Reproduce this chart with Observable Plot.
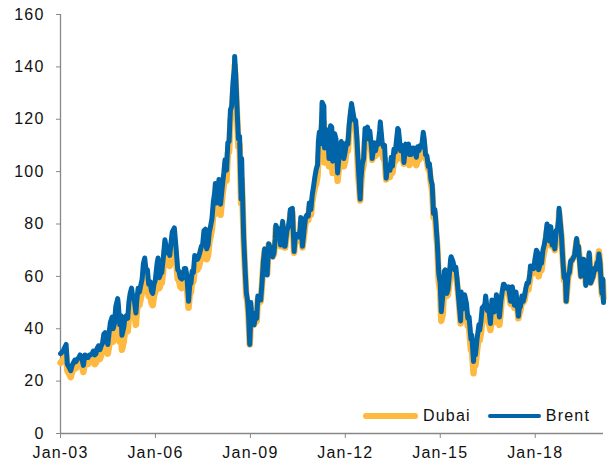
<!DOCTYPE html>
<html>
<head>
<meta charset="utf-8">
<script src="https://cdn.jsdelivr.net/npm/d3@7"></script>
<script src="https://cdn.jsdelivr.net/npm/@observablehq/plot@0.6"></script>
<style>
  html, body { margin: 0; padding: 0; background: #fff; }
  #wrap { position: relative; width: 615px; height: 468px; font-family: "Liberation Sans", Arial, sans-serif; }
  #legend { position: absolute; left: 363px; top: 406px; height: 20px; display: flex; align-items: center;
            font-size: 16px; letter-spacing: 1.2px; color: #111; white-space: nowrap; }
  .sw { display: inline-block; border-radius: 3px; }
</style>
</head>
<body>
<div id="wrap"></div>
<script>
// ---- data ----
const seriesNames = ["Dubai", "Brent"];
const seriesColors = ["#FDB940", "#0064A8"];
const yTicks = [0, 20, 40, 60, 80, 100, 120, 140, 160];
const xTickLabels = ["2003-01-01", "2006-01-01", "2009-01-01", "2012-01-01", "2015-01-01", "2018-01-01"];
const xDomain = ["2003-01-01", "2020-02-28"];

const dates = [
"2003-01-02","2003-01-15","2003-01-31","2003-02-14","2003-03-07","2003-03-20","2003-04-07","2003-04-29","2003-05-15","2003-05-30","2003-06-15","2003-06-30","2003-07-15","2003-07-31","2003-08-15","2003-08-29","2003-09-22","2003-10-10","2003-10-30","2003-11-15","2003-11-28","2003-12-15","2003-12-31",
"2004-01-15","2004-01-31","2004-02-15","2004-02-27","2004-03-15","2004-03-31","2004-04-15","2004-04-30","2004-05-15","2004-05-31","2004-06-15","2004-06-30","2004-07-15","2004-07-30","2004-08-19","2004-08-31","2004-09-15","2004-09-30","2004-10-22","2004-10-29","2004-11-15","2004-11-30","2004-12-10","2004-12-31",
"2005-01-15","2005-01-31","2005-02-15","2005-02-28","2005-03-15","2005-03-31","2005-04-15","2005-04-30","2005-05-20","2005-05-31","2005-06-15","2005-06-30","2005-07-15","2005-07-31","2005-08-15","2005-08-30","2005-09-15","2005-09-30","2005-10-15","2005-10-31","2005-11-15","2005-11-30","2005-12-15","2005-12-30",
"2006-01-20","2006-01-31","2006-02-15","2006-02-28","2006-03-15","2006-03-31","2006-04-20","2006-04-28","2006-05-15","2006-05-31","2006-06-15","2006-06-30","2006-07-14","2006-08-07","2006-08-25","2006-09-15","2006-09-29","2006-10-15","2006-10-31","2006-11-15","2006-11-30","2006-12-15","2006-12-29",
"2007-01-18","2007-01-31","2007-02-15","2007-02-28","2007-03-15","2007-03-30","2007-04-15","2007-04-30","2007-05-15","2007-05-31","2007-06-15","2007-06-29","2007-07-15","2007-07-31","2007-08-15","2007-08-31","2007-09-15","2007-09-28","2007-10-15","2007-10-31","2007-11-15","2007-11-23","2007-12-05","2007-12-31",
"2008-01-03","2008-01-22","2008-02-15","2008-02-29","2008-03-14","2008-03-31","2008-04-15","2008-04-30","2008-05-15","2008-05-30","2008-06-16","2008-06-30","2008-07-03","2008-07-15","2008-07-31","2008-08-15","2008-08-29","2008-09-16","2008-09-22","2008-10-01","2008-10-15","2008-10-31","2008-11-14","2008-11-28","2008-12-10","2008-12-24","2008-12-31",
"2009-01-06","2009-01-15","2009-01-30","2009-02-12","2009-02-27","2009-03-15","2009-03-27","2009-04-15","2009-04-30","2009-05-15","2009-05-31","2009-06-15","2009-06-30","2009-07-13","2009-07-31","2009-08-14","2009-08-31","2009-09-15","2009-09-30","2009-10-15","2009-10-21","2009-11-15","2009-11-30","2009-12-15","2009-12-31",
"2010-01-08","2010-01-29","2010-02-05","2010-02-26","2010-03-15","2010-03-31","2010-04-06","2010-04-30","2010-05-20","2010-05-31","2010-06-15","2010-06-30","2010-07-15","2010-07-31","2010-08-05","2010-08-25","2010-09-15","2010-09-30","2010-10-15","2010-10-31","2010-11-11","2010-11-30","2010-12-15","2010-12-31",
"2011-01-15","2011-01-31","2011-02-15","2011-02-24","2011-03-07","2011-03-15","2011-03-31","2011-04-08","2011-04-29","2011-05-06","2011-05-15","2011-05-31","2011-06-15","2011-06-27","2011-07-15","2011-07-29","2011-08-08","2011-08-31","2011-09-15","2011-09-30","2011-10-04","2011-10-31","2011-11-15","2011-11-30","2011-12-15","2011-12-30",
"2012-01-15","2012-01-31","2012-02-15","2012-02-29","2012-03-13","2012-03-30","2012-04-15","2012-04-30","2012-05-15","2012-05-31","2012-06-21","2012-06-29","2012-07-15","2012-07-31","2012-08-16","2012-08-31","2012-09-14","2012-09-28","2012-10-10","2012-10-31","2012-11-07","2012-11-30","2012-12-15","2012-12-31",
"2013-01-15","2013-01-31","2013-02-08","2013-02-28","2013-03-15","2013-03-29","2013-04-17","2013-04-30","2013-05-15","2013-05-31","2013-06-15","2013-06-28","2013-07-15","2013-07-31","2013-08-28","2013-09-06","2013-09-30","2013-10-15","2013-10-31","2013-11-07","2013-11-29","2013-12-15","2013-12-31",
"2014-01-09","2014-01-31","2014-02-15","2014-02-28","2014-03-15","2014-03-31","2014-04-15","2014-04-30","2014-05-15","2014-05-31","2014-06-19","2014-06-30","2014-07-15","2014-07-31","2014-08-15","2014-08-29","2014-09-15","2014-09-30","2014-10-15","2014-10-31","2014-11-15","2014-11-28","2014-12-15","2014-12-31",
"2015-01-13","2015-01-30","2015-02-17","2015-02-27","2015-03-17","2015-03-31","2015-04-15","2015-04-30","2015-05-06","2015-05-29","2015-06-15","2015-06-30","2015-07-15","2015-07-31","2015-08-24","2015-08-31","2015-09-15","2015-09-30","2015-10-09","2015-10-31","2015-11-15","2015-11-30","2015-12-21","2015-12-31",
"2016-01-20","2016-01-31","2016-02-11","2016-02-29","2016-03-22","2016-03-31","2016-04-15","2016-04-29","2016-05-15","2016-05-31","2016-06-08","2016-06-27","2016-07-15","2016-08-02","2016-08-19","2016-08-31","2016-09-15","2016-09-30","2016-10-10","2016-10-31","2016-11-14","2016-11-30","2016-12-15","2016-12-30",
"2017-01-06","2017-01-31","2017-02-15","2017-02-28","2017-03-22","2017-03-31","2017-04-12","2017-04-30","2017-05-05","2017-05-24","2017-06-21","2017-06-30","2017-07-15","2017-07-31","2017-08-15","2017-08-31","2017-09-15","2017-09-29","2017-10-15","2017-10-31","2017-11-07","2017-11-30","2017-12-15","2017-12-29",
"2018-01-15","2018-01-31","2018-02-09","2018-02-28","2018-03-15","2018-03-31","2018-04-15","2018-04-30","2018-05-17","2018-05-31","2018-06-15","2018-06-30","2018-07-15","2018-07-31","2018-08-15","2018-08-31","2018-09-15","2018-09-30","2018-10-03","2018-10-31","2018-11-15","2018-11-30","2018-12-15","2018-12-24",
"2019-01-15","2019-01-31","2019-02-15","2019-02-28","2019-03-15","2019-03-31","2019-04-24","2019-04-30","2019-05-15","2019-05-31","2019-06-12","2019-06-30","2019-07-15","2019-07-31","2019-08-07","2019-08-30","2019-09-16","2019-09-30","2019-10-03","2019-10-31","2019-11-15","2019-11-30","2019-12-15","2019-12-31",
"2020-01-06","2020-01-20","2020-01-31","2020-02-10","2020-02-20","2020-02-28"
];

const brent = [
30.5,31.0,31.5,32.5,34.0,26.5,25.5,24.0,26.0,27.0,28.0,27.5,28.5,28.8,30.0,29.5,26.0,30.0,29.0,29.0,30.0,30.0,30.5,
31.5,30.0,30.5,32.5,33.5,32.0,33.5,34.5,38.0,38.5,36.0,34.0,38.5,42.5,44.5,40.0,42.0,48.5,51.5,49.5,41.5,45.0,37.5,40.5,
44.5,45.0,44.0,50.0,53.5,55.5,52.0,51.5,46.0,51.0,55.5,54.0,56.5,59.0,65.0,67.0,62.0,62.5,57.0,58.0,54.5,53.5,57.0,58.5,
65.0,67.0,59.5,61.0,61.5,66.5,74.0,72.5,69.0,70.0,68.0,73.0,77.0,78.5,71.5,62.5,62.0,59.5,59.0,59.5,63.0,63.0,60.5,
50.5,56.5,57.5,62.0,61.5,68.0,67.5,66.5,67.5,69.5,71.5,72.0,77.5,78.0,70.5,72.0,77.0,79.0,82.0,88.5,92.0,95.5,88.0,94.0,
97.0,87.5,95.5,99.5,104.5,100.5,111.0,111.5,123.5,125.0,135.0,139.5,144.0,137.0,124.0,112.5,113.5,89.5,105.0,92.0,75.0,63.0,54.0,51.0,45.5,34.0,40.0,
50.0,45.0,46.0,41.5,44.5,44.0,52.5,51.0,51.0,57.5,66.0,70.5,70.0,60.5,72.5,71.0,71.0,67.5,69.0,74.5,79.5,77.5,78.0,72.0,78.0,
81.0,71.5,71.5,77.5,79.0,82.5,85.5,86.0,69.5,74.0,76.0,75.0,75.0,78.5,82.5,71.5,78.5,82.5,83.5,83.0,88.0,85.5,91.0,94.5,
98.0,101.0,102.5,111.5,115.0,110.5,117.5,126.5,125.0,109.0,112.0,116.0,113.0,105.0,117.5,117.0,104.0,114.5,112.5,102.5,99.5,109.5,111.5,110.5,105.0,107.5,
111.0,110.5,118.0,122.5,126.0,122.5,119.5,119.5,112.0,101.5,89.5,97.0,103.0,105.0,116.5,114.5,117.0,112.5,115.5,108.5,105.0,111.0,108.0,111.0,
110.5,115.5,119.0,111.5,109.5,110.0,97.5,101.5,102.5,100.5,105.5,102.0,108.5,107.5,116.5,116.0,108.0,110.0,108.5,103.5,110.5,109.0,110.5,
106.5,106.5,109.0,109.0,108.5,105.5,109.5,108.0,110.0,109.5,115.0,112.5,106.5,106.0,102.0,103.0,97.0,95.0,84.0,85.5,79.0,72.5,61.0,57.5,
46.5,52.5,62.0,62.5,53.5,55.0,60.0,66.5,67.5,65.5,62.5,63.5,58.5,52.0,43.0,54.0,47.5,48.5,53.0,49.5,44.0,44.5,36.0,37.5,
27.5,35.0,30.0,36.0,41.5,39.5,43.0,48.0,48.5,49.5,52.5,47.0,47.5,42.0,51.0,47.0,46.5,49.0,53.0,48.5,44.5,50.5,54.0,57.0,
57.0,55.5,55.5,56.0,50.5,53.0,56.0,51.5,49.0,54.0,44.8,47.5,48.5,52.5,50.5,52.5,55.5,57.5,57.5,61.0,64.0,63.5,63.0,66.5,
70.0,69.0,62.5,65.0,65.0,70.0,72.0,75.0,80.0,77.5,73.5,79.0,72.0,74.0,70.5,77.5,78.0,82.5,86.0,75.5,66.5,59.5,60.0,50.5,
60.5,61.5,66.0,66.0,67.0,68.0,74.5,72.0,71.5,64.5,60.0,66.5,66.5,65.0,56.5,60.5,69.0,61.0,57.5,60.0,63.0,62.5,65.0,66.0,
68.5,65.0,58.0,53.5,59.0,50.0
];

const dubai = [
27.0,27.5,28.0,29.0,30.5,24.0,23.0,21.5,23.5,24.5,25.5,25.0,26.0,26.3,27.5,27.0,23.5,27.5,26.5,26.5,27.5,27.5,28.0,
28.0,26.5,27.0,29.0,30.0,28.5,30.0,31.0,34.5,35.0,32.5,30.5,33.5,37.5,39.0,35.0,36.5,42.0,44.0,42.5,35.0,38.0,32.0,35.0,
39.5,40.0,39.0,45.0,48.5,50.5,47.0,46.5,41.5,46.5,50.5,49.0,51.5,54.0,59.5,61.5,57.0,57.0,52.5,53.0,50.0,49.0,52.5,54.0,
60.5,62.5,55.5,57.0,57.5,62.0,69.5,68.0,64.5,65.5,64.0,68.5,72.0,73.5,67.0,59.0,58.5,56.0,55.5,56.0,59.0,59.0,56.5,
48.0,53.0,54.0,58.5,58.0,63.5,63.5,62.5,63.5,65.5,67.5,68.0,72.5,73.0,66.5,68.0,73.0,75.0,78.0,84.0,87.0,90.5,84.0,89.5,
93.0,83.5,91.5,95.0,100.0,96.5,107.0,107.5,119.5,121.0,131.0,135.5,140.5,134.0,121.0,109.5,110.5,88.0,97.0,90.0,73.5,62.0,52.5,50.0,44.5,34.0,38.5,
47.5,43.0,43.5,41.5,43.5,43.0,51.0,50.0,50.5,57.0,65.5,70.0,70.0,61.0,72.0,71.0,70.5,67.5,68.5,74.0,78.5,77.0,77.0,71.5,77.0,
79.5,71.0,71.0,76.5,77.5,80.5,84.0,84.5,69.0,73.0,74.5,73.5,73.5,77.0,80.5,71.0,76.5,80.5,81.5,81.5,86.0,83.5,88.5,91.5,
94.0,95.5,98.5,106.0,108.5,105.0,111.0,119.5,119.0,103.5,106.5,110.5,108.0,102.0,112.5,112.5,99.5,108.0,106.0,99.5,96.5,106.0,108.5,107.0,102.0,104.0,
108.0,108.0,115.5,119.5,123.0,120.0,116.5,116.5,108.5,98.0,89.0,94.0,100.5,102.5,112.5,111.5,113.5,109.5,111.5,107.0,104.5,108.0,106.0,107.5,
107.0,111.0,114.5,107.5,105.0,105.0,97.0,99.0,100.0,98.0,101.0,99.5,104.0,104.0,110.5,110.0,105.0,106.0,105.5,103.0,106.5,106.5,107.0,
102.5,103.5,105.0,105.5,104.0,102.5,105.0,104.5,106.0,106.0,111.0,109.5,105.0,104.5,101.0,101.0,95.5,93.0,82.5,84.0,76.5,71.5,58.0,54.5,
43.0,45.5,58.0,58.5,52.5,53.0,57.0,62.0,64.0,63.0,61.0,60.5,57.0,52.0,42.0,49.5,45.5,45.5,48.5,45.5,41.0,40.5,32.0,32.5,
23.0,31.0,26.0,31.5,37.5,35.5,38.5,42.5,44.5,46.0,47.5,43.5,42.5,39.5,46.5,43.0,42.5,45.0,49.0,46.0,41.5,47.0,52.5,54.0,
55.0,54.0,54.0,54.5,49.5,51.5,54.0,50.0,48.0,52.5,44.0,45.5,47.0,51.0,50.0,51.0,54.0,55.5,55.0,58.5,61.5,61.0,61.5,64.0,
68.0,67.0,60.0,62.5,62.5,67.0,69.5,72.0,77.5,75.0,72.0,76.0,71.5,72.5,70.0,75.0,76.5,80.5,84.5,75.0,67.0,58.5,59.0,50.5,
59.5,61.0,65.0,66.0,67.0,67.5,73.5,72.0,71.0,66.0,60.0,64.5,65.0,64.0,57.5,59.5,68.0,60.5,57.5,60.0,62.5,62.0,65.0,67.5,
69.5,64.5,57.0,53.0,58.0,51.5
];

// ---- build table ----
if (dates.length !== brent.length || dates.length !== dubai.length) {
  throw new Error(`length mismatch: dates ${dates.length}, brent ${brent.length}, dubai ${dubai.length}`);
}
const parse = d3.utcParse("%Y-%m-%d");
const rows = [];
dates.forEach((d, i) => {
  rows.push({date: parse(d), value: dubai[i], series: seriesNames[0]});
  rows.push({date: parse(d), value: brent[i], series: seriesNames[1]});
});
const dubaiRows = rows.filter(r => r.series === seriesNames[0]);
const brentRows = rows.filter(r => r.series === seriesNames[1]);
const xd = xDomain.map(parse);
const axisColor = "#888888";

const chart = Plot.plot({
  width: 615,
  height: 468,
  marginLeft: 60,
  marginRight: 12,
  marginTop: 14,
  marginBottom: 35,
  style: {fontFamily: "'Liberation Sans', Arial, sans-serif", fontSize: "16px", letterSpacing: "1.2px", color: "#111", background: "#fff"},
  x: {type: "utc", domain: xd},
  y: {domain: [yTicks[0], yTicks[yTicks.length - 1]]},
  marks: [
    Plot.axisY({ticks: yTicks, tickSize: 4, tickPadding: 12, stroke: axisColor, fill: "#111", label: null, fontSize: 16}),
    Plot.axisX({ticks: xTickLabels.map(parse), tickSize: 5, tickPadding: 8, tickFormat: d3.utcFormat("%b-%y"), stroke: axisColor, fill: "#111", label: null, fontSize: 16}),
    Plot.ruleX([xd[0]], {y1: yTicks[0], y2: yTicks[yTicks.length - 1], stroke: axisColor, strokeWidth: 1.3}),
    Plot.ruleY([yTicks[0]], {stroke: axisColor, strokeWidth: 1.3}),
    Plot.line(dubaiRows, {x: "date", y: "value", stroke: seriesColors[0], strokeWidth: 6.5, strokeLinejoin: "round", strokeLinecap: "round"}),
    Plot.line(brentRows, {x: "date", y: "value", stroke: seriesColors[1], strokeWidth: 5, strokeLinejoin: "round", strokeLinecap: "round"})
  ]
});

const wrap = document.getElementById("wrap");
wrap.appendChild(chart);

// legend (inside plot, bottom right)
const legend = document.createElement("div");
legend.id = "legend";
const swW = [55, 53], swH = [6, 4.5], gaps = [17, 0];
seriesNames.forEach((name, i) => {
  const sw = document.createElement("span");
  sw.className = "sw";
  sw.style.width = swW[i] + "px";
  sw.style.height = swH[i] + "px";
  sw.style.background = seriesColors[i];
  sw.style.marginRight = "5px";
  const t = document.createElement("span");
  t.textContent = name;
  t.style.marginRight = gaps[i] + "px";
  legend.appendChild(sw);
  legend.appendChild(t);
});
wrap.appendChild(legend);
</script>
</body>
</html>
